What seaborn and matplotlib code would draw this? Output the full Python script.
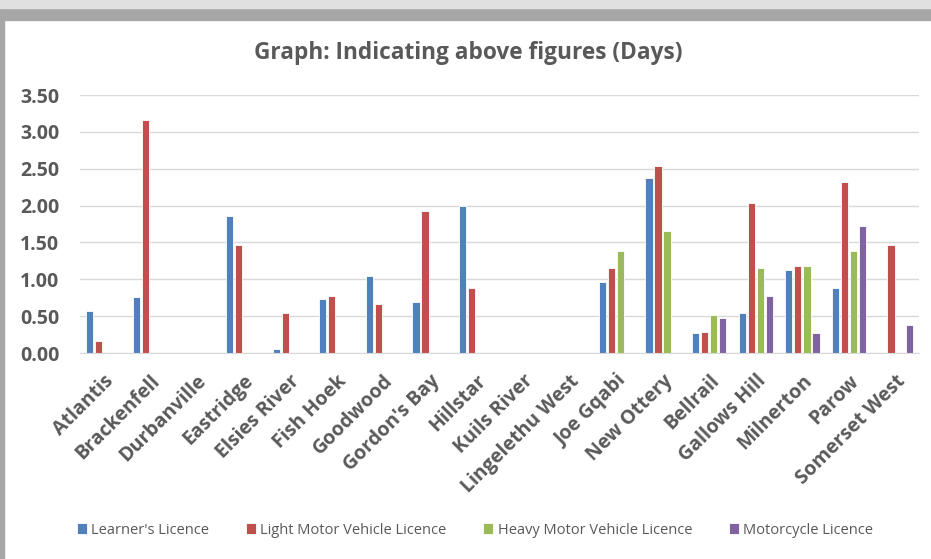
import numpy as np
import pandas as pd
import matplotlib
matplotlib.use("Agg")
import matplotlib.pyplot as plt
import seaborn as sns
from matplotlib.patches import Rectangle

# stations along the x axis
stations = ["Atlantis", "Brackenfell", "Durbanville", "Eastridge", "Elsies River",
            "Fish Hoek", "Goodwood", "Gordon's Bay", "Hillstar", "Kuils River",
            "Lingelethu West", "Joe Gqabi", "New Ottery", "Bellrail", "Gallows Hill",
            "Milnerton", "Parow", "Somerset West"]

# days per licence type (nan = no bar)
nan = np.nan
learners = [0.57, 0.76, nan, 1.86, 0.05, 0.73, 1.04, 0.69, 1.99, nan,
            nan, 0.96, 2.38, 0.27, 0.54, 1.13, 0.88, nan]
light_mv = [0.16, 3.16, nan, 1.47, 0.54, 0.78, 0.66, 1.92, 0.88, nan,
            nan, 1.16, 2.54, 0.28, 2.04, 1.18, 2.32, 1.47]
heavy_mv = [nan, nan, nan, nan, nan, nan, nan, nan, nan, nan,
            nan, 1.38, 1.66, 0.52, 1.16, 1.18, 1.38, nan]
motorcycle = [nan, nan, nan, nan, nan, nan, nan, nan, nan, nan,
              nan, nan, nan, 0.47, 0.78, 0.27, 1.72, 0.38]

series = ["Learner's Licence", "Light Motor Vehicle Licence",
          "Heavy Motor Vehicle Licence", "Motorcycle Licence"]
colours = ["#4F81BD", "#C0504D", "#9BBB59", "#8064A2"]

df = pd.DataFrame({"Station": stations, series[0]: learners, series[1]: light_mv,
                   series[2]: heavy_mv, series[3]: motorcycle})
long = df.melt(id_vars="Station", var_name="Licence", value_name="Days")

sns.set_style("white")
plt.rcParams["font.family"] = ["Open Sans", "DejaVu Sans"]
grey = "#595959"

fig = plt.figure(figsize=(9.31, 5.59), dpi=100)
ax = fig.add_axes([0.086, 0.3685, 0.901, 0.4615])

sns.barplot(data=long, x="Station", y="Days", hue="Licence", hue_order=series,
            order=stations, palette=colours, width=0.78, gap=0.2,
            edgecolor="white", linewidth=0.6, saturation=1, ax=ax)

ax.set_ylim(0, 3.5)
ax.set_yticks(np.arange(0, 3.51, 0.5))
ax.set_yticklabels([f"{v:.2f}" for v in np.arange(0, 3.51, 0.5)],
                   fontsize=14, fontweight="bold", color=grey)
ax.set_xticks(range(len(stations)))
ax.set_xticklabels(stations, rotation=45, ha="right", rotation_mode="anchor",
                   fontsize=14, fontweight="bold", color=grey)
ax.tick_params(axis="y", length=0, pad=15)
ax.tick_params(axis="x", length=0, pad=13)
ax.set_xlabel("")
ax.set_ylabel("")
ax.grid(axis="y", color="#d9d9d9", linewidth=1)
ax.set_axisbelow(True)
for s in ["top", "right", "left"]:
    ax.spines[s].set_visible(False)
ax.spines["bottom"].set_color("#d9d9d9")

fig.text(0.5025, 1 - 53 / 559, "Graph: Indicating above figures (Days)", ha="center",
         va="center", fontsize=16.3, fontweight="bold", color=grey)

handles, labels = ax.get_legend_handles_labels()
ax.get_legend().remove()
fig.legend(handles, labels, loc="center", bbox_to_anchor=(475 / 931, 1 - 530 / 559),
           ncol=4, frameon=False, fontsize=10.5, handlelength=0.7, handleheight=0.7,
           handletextpad=0.3, columnspacing=2.5, labelcolor=grey)

# window-style border around the chart
fig.patches.append(Rectangle((0, 0.965), 1, 0.035, transform=fig.transFigure,
                             color="#a6a6a6", zorder=-1))
fig.patches.append(Rectangle((0, 0.985), 1, 0.015, transform=fig.transFigure,
                             color="#e0e0e0", zorder=-1))
fig.patches.append(Rectangle((0, 0), 0.004, 0.965, transform=fig.transFigure,
                             color="#a6a6a6", zorder=-1))

fig.savefig("out.png", dpi=100)
